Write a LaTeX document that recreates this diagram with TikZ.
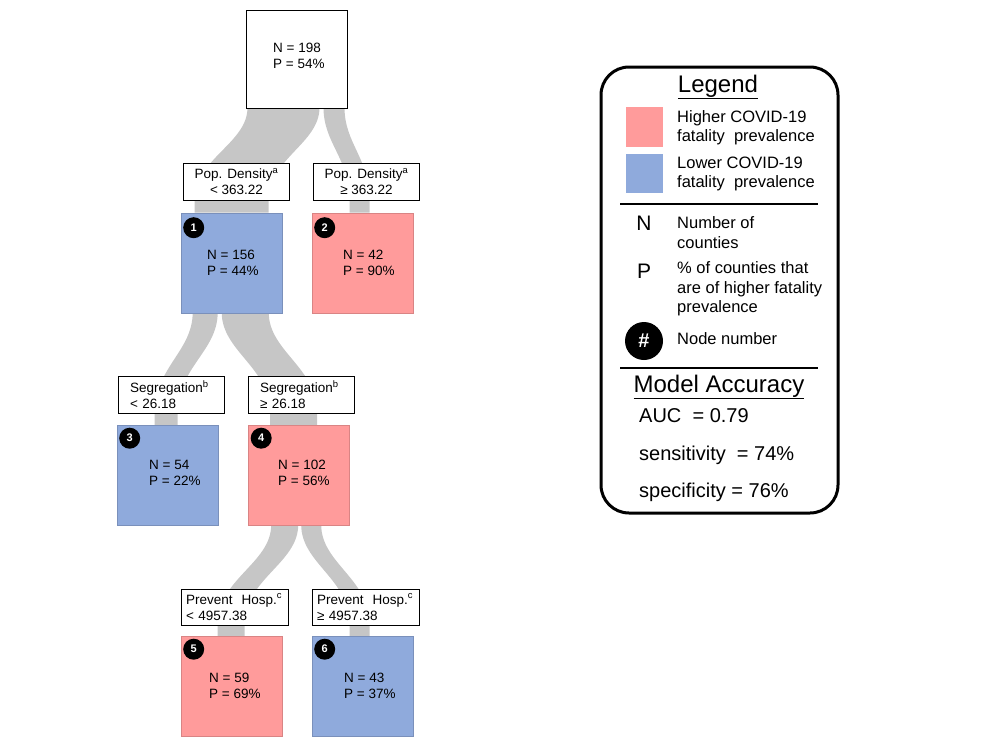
\documentclass[tikz,border=0pt]{standalone}
\usepackage{fontspec}
\setmainfont{Liberation Sans}
\usetikzlibrary{calc,backgrounds}
\definecolor{hired}{HTML}{FF9B9B}
\definecolor{lowblue}{HTML}{8FAADC}
\definecolor{flowgrey}{HTML}{C6C6C6}
\newcommand\flowband[6]{%
  \fill[flowgrey] let \p1=(#1.south west), \p2=(#2.north west),
     \n1={\x1+#3pt}, \n2={\x1+#4pt}, \n3={\x2+#5pt}, \n4={\x2+#6pt},
     \n5={\y2+12pt}, \n6={\y1-0.38*(\y1-\y2-12pt)}, \n7={\y1-0.54*(\y1-\y2-12pt)}
  in ({\n1},{\y1+1pt}) .. controls ({\n1},{\n6}) and ({\n3},{\n7}) .. ({\n3},{\n5})
     -- ({\n3},{\y2}) -- ({\n4},{\y2}) -- ({\n4},{\n5})
     .. controls ({\n4},{\n7}) and ({\n2},{\n6}) .. ({\n2},{\y1+1pt}) -- cycle;}
\begin{document}
\begin{tikzpicture}[x=1pt,y=-1pt,
  treefont/.style={font=\fontsize{13.5}{16}\selectfont},
  nodebox/.style={draw, line width=0.6pt, minimum width=101pt, minimum height=100pt, inner sep=0pt},
  hibox/.style={nodebox, fill=hired, draw=hired!85!black},
  lobox/.style={nodebox, fill=lowblue, draw=lowblue!85!black},
  splitbox/.style={draw, fill=white, line width=0.8pt, minimum width=106pt, minimum height=37pt, treefont},
  ntext/.style={treefont, align=left, anchor=west, inner sep=0pt},
  numc/.style={circle, fill=black, minimum size=21pt, inner sep=0pt, text=white, font=\fontsize{11}{11}\selectfont\bfseries},
  legfont/.style={font=\fontsize{16.5}{19.5}\selectfont, align=left, anchor=west, inner sep=0pt},
  accfont/.style={font=\fontsize{20}{20}\selectfont, anchor=west, inner sep=0pt},
  sepline/.style={line width=2.5pt}]
\useasboundingbox (0,0) rectangle (986,740);

% tree nodes
\node[nodebox, fill=white, draw=black, line width=1pt, minimum height=98pt] (root) at (296.5,59) {};
\node[lobox] (n1) at (231.5,263) {};
\node[hibox] (n2) at (362.5,263) {};
\node[lobox] (n3) at (167.5,475.5) {};
\node[hibox] (n4) at (299,475.5) {};
\node[hibox] (n5) at (231.5,686.5) {};
\node[lobox] (n6) at (362.5,686.5) {};

% node texts
\node[ntext] (t0) at (273,56) {N = 198\\P = 54\%};
\node[ntext] (t1) at (207,262.5) {N = 156\\P = 44\%};
\node[ntext] (t2) at (343,262.5) {N = 42\\P = 90\%};
\node[ntext] (t3) at (149,472.5) {N = 54\\P = 22\%};
\node[ntext] (t4) at (278,472.5) {N = 102\\P = 56\%};
\node[ntext] (t5) at (209,686) {N = 59\\P = 69\%};
\node[ntext] (t6) at (344,686) {N = 43\\P = 37\%};

% node numbers
\node[numc] (c1) at ($(n1.north west)+(13,15)$) {1};
\node[numc] (c2) at ($(n2.north west)+(13,15)$) {2};
\node[numc] (c3) at ($(n3.north west)+(13,13)$) {3};
\node[numc] (c4) at ($(n4.north west)+(13,13)$) {4};
\node[numc] (c5) at ($(n5.north west)+(13,13)$) {5};
\node[numc] (c6) at ($(n6.north west)+(13,13)$) {6};

% split labels
\node[splitbox, align=center] (s1a) at (236.5,181.5) {Pop. Density\textsuperscript{a}\\< 363.22};
\node[splitbox, align=center] (s1b) at (366.5,181.5) {Pop. Density\textsuperscript{a}\\≥ 363.22};
\node[splitbox, align=left, text width=82pt, inner xsep=12pt] (s2a) at (171,394.5) {Segregation\textsuperscript{b}\\< 26.18};
\node[splitbox, align=left, text width=82pt, inner xsep=12pt] (s2b) at (301,394.5) {Segregation\textsuperscript{b}\\≥ 26.18};
\node[splitbox, align=left, text width=97pt, inner xsep=5pt, minimum height=36pt] (s3a) at (234.5,607) {\mbox{Prevent\ \ Hosp.\textsuperscript{c}}\\< 4957.38};
\node[splitbox, align=left, text width=97pt, inner xsep=5pt, minimum height=36pt] (s3b) at (365.5,607) {\mbox{Prevent\ \ Hosp.\textsuperscript{c}}\\≥ 4957.38};

% flows
\begin{scope}[on background layer]
\flowband{root}{n1}{2}{74}{14}{88}
\flowband{root}{n2}{78}{99}{38}{58}
\flowband{n1}{n3}{12}{37}{38}{61}
\flowband{n1}{n4}{41}{88}{22}{69}
\flowband{n4}{n5}{23}{50}{37}{64}
\flowband{n4}{n6}{53}{73}{38}{58}
\end{scope}

% legend
\draw[line width=3pt, rounded corners=28pt] (601,67) rectangle (838,513);
\node[font=\fontsize{24}{24}\selectfont, inner sep=0pt] (legtitle) at (718,87) {\underline{Legend}};
\node[fill=hired, minimum width=37pt, minimum height=40pt, inner sep=0pt] (lhi) at (644.5,127) {};
\node[fill=lowblue, minimum width=37pt, minimum height=39pt, inner sep=0pt] (llo) at (644.5,173.5) {};
\node[legfont] (lhit) at (677,127.5) {Higher COVID-19\\fatality\ \ prevalence};
\node[legfont] (llot) at (677,174) {Lower COVID-19\\fatality\ \ prevalence};
\coordinate (sepa1) at (620,204);
\coordinate (sepa2) at (818,204);
\draw[sepline] (sepa1) -- (sepa2);
\node[font=\fontsize{21}{21}\selectfont, inner sep=0pt] (lN) at (644,223) {N};
\node[legfont, font=\fontsize{16.5}{20}\selectfont] (lNt) at (677,233) {Number of\\counties};
\node[font=\fontsize{21}{21}\selectfont, inner sep=0pt] (lP) at (644,271) {P};
\node[legfont] (lPt) at (677,289) {\% of counties that\\are of higher fatality\\prevalence};
\node[circle, fill=black, minimum size=38pt, inner sep=0pt, text=white, font=\fontsize{20}{20}\selectfont\bfseries] (lhash) at (644,341) {\#};
\node[legfont] (lhasht) at (677,339) {Node number};
\coordinate (sepb1) at (620,368);
\coordinate (sepb2) at (818,368);
\draw[sepline] (sepb1) -- (sepb2);
\node[font=\fontsize{24}{24}\selectfont, inner sep=0pt] (acctitle) at (719,387) {\underline{Model Accuracy}};
\node[accfont] (auc) at (639,416) {AUC\ \ = 0.79};
\node[accfont] (sens) at (639,455) {sensitivity\ \ = 74\%};
\node[accfont] (spec) at (639,492) {specificity = 76\%};
\end{tikzpicture}
\end{document}
